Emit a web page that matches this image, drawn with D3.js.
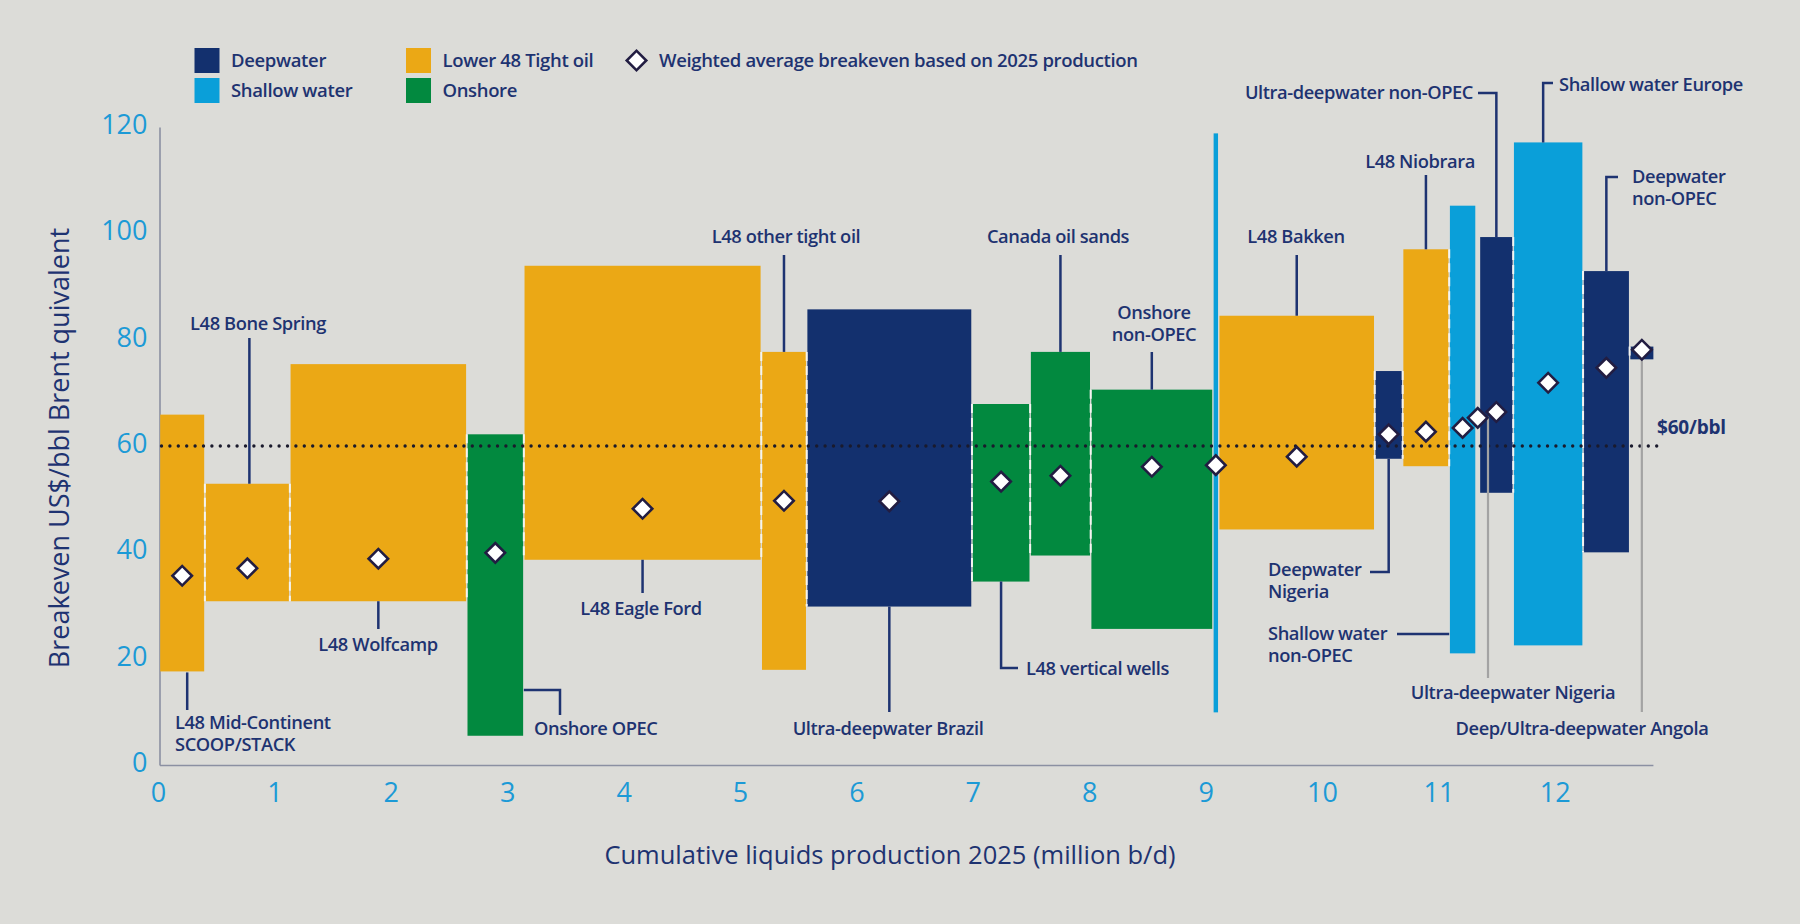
<!DOCTYPE html>
<html><head><meta charset="utf-8">
<script src="https://cdn.jsdelivr.net/npm/d3@7"></script>
<style>
body{margin:0;background:#dcdcd8;}
svg{display:block;font-family:'Open Sans',sans-serif;}
</style></head><body>
<svg id="chart" width="1800" height="924"></svg>
<script>
// ---------- DATA ----------
const categories = ["Deepwater", "Shallow water", "Lower 48 Tight oil", "Onshore"];
const categoryColors = ["#13306e", "#0a9fd9", "#eba815", "#02893f"];
const names = ["L48 Mid-Continent SCOOP/STACK","L48 Bone Spring","L48 Wolfcamp","Onshore OPEC","L48 Eagle Ford",
  "L48 other tight oil","Ultra-deepwater Brazil","L48 vertical wells","Canada oil sands","Onshore non-OPEC",
  "Shallow water (other)","L48 Bakken","Deepwater Nigeria","L48 Niobrara","Shallow water non-OPEC",
  "Ultra-deepwater Nigeria","Ultra-deepwater non-OPEC","Shallow water Europe","Deepwater non-OPEC","Deep/Ultra-deepwater Angola"];
const segCategory = [2,2,2,3,2,2,0,3,3,3,1,2,0,2,1,0,0,1,0,0];
const production = [0.39,0.73,1.52,0.49,2.04,0.39,1.42,0.50,0.52,1.05,0.05,1.34,0.24,0.40,0.23,0.03,0.29,0.60,0.40,0.21];
const lowBreakeven  = [17.6,30.8,30.8,5.5,38.6,17.9,29.8,34.5,39.4,25.6,9.9,44.3,57.6,56.2,21.0,64.3,51.2,22.5,40.0,76.3];
const highBreakeven = [65.9,52.9,75.4,62.2,93.9,77.7,85.7,67.9,77.7,70.6,118.8,84.5,74.1,97.0,105.2,66.3,99.3,117.1,92.9,78.7];
const avgBreakeven  = [35.6,37.0,38.8,39.9,48.2,49.7,49.6,53.3,54.4,56.1,56.4,58.0,62.2,62.7,63.4,65.3,66.4,71.9,74.7,78.1];
const yTicks = [0,20,40,60,80,100,120];
const xTicks = [0,1,2,3,4,5,6,7,8,9,10,11,12];
const refPrice = 60;
const refLabel = "$60/bbl";
const legendAvgText = "Weighted average breakeven based on 2025 production";
const xTitle = "Cumulative liquids production 2025 (million b/d)";
const yTitle = "Breakeven US$/bbl Brent quivalent";

// ---------- LAYOUT ----------
const svg = d3.select("#chart");
const navy = "#1e3371";
const W = 1800, H = 924;
svg.append("rect").attr("width",W).attr("height",H).attr("fill","#dcdcd8");

const cumEnd = Array.from(d3.cumsum(production));
const segs = names.map((n,i)=>({
  name:n, cat:segCategory[i], x0: i? cumEnd[i-1]:0, x1: cumEnd[i],
  lo: lowBreakeven[i], hi: highBreakeven[i], avg: avgBreakeven[i]
}));

const x = d3.scaleLinear().domain([0,12.83]).range([159.5, 159.5+12.83*116.4]);
const y = d3.scaleLinear().domain([0,120]).range([765,127]);

// axes
const gy = svg.append("g").attr("transform",`translate(${x(0)},0)`)
  .call(d3.axisLeft(y).tickValues(yTicks).tickSize(0).tickPadding(12));
const gx = svg.append("g").attr("transform",`translate(0,${y(0)})`)
  .call(d3.axisBottom(x).tickValues(xTicks).tickSize(0).tickPadding(18));
[gx,gy].forEach(g=>{
  g.select(".domain").attr("stroke","#8b90a2").attr("stroke-width",1.6);
  g.selectAll("text").attr("fill","#1c9ad6").attr("font-size",27).attr("font-family","'Open Sans',sans-serif");
});
gx.selectAll("text").attr("transform","translate(-1.5,0)");
gy.selectAll("text").attr("transform","translate(0,-2)");

// boxes
const inset = 0.7;
svg.append("g").selectAll("rect").data(segs).join("rect")
  .attr("x",d=>x(d.x0)+inset)
  .attr("width",d=>Math.max(1.5,x(d.x1)-x(d.x0)-2*inset))
  .attr("y",d=>y(d.hi))
  .attr("height",d=>y(d.lo)-y(d.hi))
  .attr("fill",d=>categoryColors[d.cat]);

// white dashed separators between adjacent boxes
const seps = [];
for(let i=0;i<segs.length-1;i++){
  const a=segs[i], b=segs[i+1];
  if(production[i]<0.1 || production[i+1]<0.1) continue;
  const top=Math.min(a.hi,b.hi), bot=Math.max(a.lo,b.lo);
  if(top>bot) seps.push({x:a.x1, top, bot});
}
svg.append("g").selectAll("line").data(seps).join("line")
  .attr("x1",d=>x(d.x)).attr("x2",d=>x(d.x))
  .attr("y1",d=>y(d.top)).attr("y2",d=>y(d.bot))
  .attr("stroke","#f4f4f0").attr("stroke-width",2).attr("stroke-dasharray","9 5");

// $60 line
svg.append("line").attr("x1",x(0)+2).attr("x2",1662)
  .attr("y1",y(refPrice)).attr("y2",y(refPrice))
  .attr("stroke","#1a1a2c").attr("stroke-width",3.4)
  .attr("stroke-linecap","round").attr("stroke-dasharray","0 8.4");
svg.append("text").attr("x",1657).attr("y",y(refPrice)-19).attr("dy","0.35em")
  .attr("fill",navy).attr("font-weight",700).attr("font-size",19).attr("letter-spacing","-0.2").text(refLabel);

// annotations
const geo = i => { const s=segs[i]; return {cx:(x(s.x0)+x(s.x1))/2, x0:x(s.x0), x1:x(s.x1), yTop:y(s.hi), yBot:y(s.lo), yAvg:y(s.avg)}; };
const annotations = [
  {i:0, lines:["L48 Mid-Continent","SCOOP/STACK"], anchor:"start", lx:175, ly:723, leader:b=>[[b.cx+5,b.yBot+1],[b.cx+5,710]]},
  {i:1, lines:["L48 Bone Spring"], anchor:"middle", lx:258, ly:324, leader:b=>[[b.cx+2,b.yTop],[b.cx+2,338]]},
  {i:2, lines:["L48 Wolfcamp"], anchor:"middle", lx:378, ly:645, leader:b=>[[b.cx,b.yBot],[b.cx,629]]},
  {i:3, lines:["Onshore OPEC"], anchor:"start", lx:534, ly:729, leader:b=>[[b.x1,690],[560,690],[560,715]]},
  {i:4, lines:["L48 Eagle Ford"], anchor:"middle", lx:641, ly:609, leader:b=>[[b.cx,b.yBot],[b.cx,593]]},
  {i:5, lines:["L48 other tight oil"], anchor:"middle", lx:786, ly:237, leader:b=>[[b.cx,b.yTop],[b.cx,255]]},
  {i:6, lines:["Ultra-deepwater Brazil"], anchor:"middle", lx:888, ly:729, leader:b=>[[b.cx,b.yBot],[b.cx,712]]},
  {i:7, lines:["L48 vertical wells"], anchor:"start", lx:1026, ly:669, leader:b=>[[b.cx,b.yBot],[b.cx,668],[1018,668]]},
  {i:8, lines:["Canada oil sands"], anchor:"middle", lx:1058, ly:237, leader:b=>[[b.cx,b.yTop],[b.cx,255]]},
  {i:9, lines:["Onshore","non-OPEC"], anchor:"middle", lx:1154, ly:313, leader:b=>[[b.cx,b.yTop],[b.cx,352]]},
  {i:11, lines:["L48 Bakken"], anchor:"middle", lx:1296, ly:237, leader:b=>[[b.cx,b.yTop],[b.cx,255]]},
  {i:12, lines:["Deepwater","Nigeria"], anchor:"start", lx:1268, ly:570, leader:b=>[[b.cx,b.yBot],[b.cx,572],[1370,572]]},
  {i:13, lines:["L48 Niobrara"], anchor:"middle", lx:1420, ly:162, leader:b=>[[b.cx,b.yTop],[b.cx,175]]},
  {i:14, lines:["Shallow water","non-OPEC"], anchor:"start", lx:1268, ly:634, leader:b=>[[b.x0,634],[1397,634]]},
  {i:15, lines:["Ultra-deepwater Nigeria"], anchor:"middle", lx:1513, ly:693, gray:true, leader:b=>[[b.cx+9,b.yAvg],[1488,b.yAvg],[1488,678]]},
  {i:16, lines:["Ultra-deepwater non-OPEC"], anchor:"end", lx:1473, ly:93, leader:b=>[[b.cx,b.yTop],[b.cx,93],[1478,93]]},
  {i:17, lines:["Shallow water Europe"], anchor:"start", lx:1559, ly:85, leader:b=>[[b.cx-5,b.yTop],[b.cx-5,83],[1553,83]]},
  {i:18, lines:["Deepwater","non-OPEC"], anchor:"start", lx:1632, ly:177, leader:b=>[[b.cx,b.yTop],[b.cx,177],[1618,177]]},
  {i:19, lines:["Deep/Ultra-deepwater Angola"], anchor:"middle", lx:1582, ly:729, gray:true, leader:b=>[[b.cx,b.yAvg],[b.cx,712]]}
];
const ga = svg.append("g");
annotations.forEach(a=>{
  const pts = a.leader(geo(a.i));
  ga.append("path").attr("d",d3.line()(pts)).attr("fill","none")
    .attr("stroke",a.gray?"#a3a3a3":navy).attr("stroke-width",a.gray?2.2:2.5);
  const t = ga.append("text").attr("text-anchor",a.anchor).attr("fill",navy)
    .attr("font-size",18.3).attr("font-weight",600).attr("letter-spacing","-0.4");
  a.lines.forEach((l,k)=>t.append("tspan").attr("x",a.lx).attr("y",a.ly+k*21.5).attr("dy","0.35em").text(l));
});

// diamonds
const diamond = d3.symbol().type(d3.symbolSquare).size(190);
svg.append("g").selectAll("path").data(segs).join("path")
  .attr("d",diamond)
  .attr("transform",d=>`translate(${(x(d.x0)+x(d.x1))/2},${y(d.avg)}) rotate(45)`)
  .attr("fill","#ffffff").attr("stroke","#221d42").attr("stroke-width",2.6);

// legend
const legendPos = [[194.5,48],[194.5,78],[406,48],[406,78]];
const lg = svg.append("g");
categories.forEach((c,i)=>{
  const [lx,ly]=legendPos[i];
  lg.append("rect").attr("x",lx).attr("y",ly).attr("width",25).attr("height",25).attr("fill",categoryColors[i]);
  lg.append("text").attr("x",lx+36.5).attr("y",ly+12.5).attr("dy","0.35em")
    .attr("fill",navy).attr("font-size",18.5).attr("font-weight",600).attr("letter-spacing","-0.35").text(c);
});
lg.append("path").attr("d",diamond).attr("transform","translate(636.5,60.5) rotate(45)")
  .attr("fill","#fff").attr("stroke","#221d42").attr("stroke-width",2.6);
lg.append("text").attr("x",659).attr("y",60.5).attr("dy","0.35em")
  .attr("fill",navy).attr("font-size",18.5).attr("font-weight",600).attr("letter-spacing","-0.35").text(legendAvgText);

// titles
svg.append("text").attr("x",890).attr("y",855).attr("dy","0.35em").attr("text-anchor","middle")
  .attr("fill",navy).attr("font-size",25.5).attr("font-weight",500).text(xTitle);
svg.append("text").attr("transform","translate(60,448) rotate(-90)").attr("dy","0.35em").attr("text-anchor","middle")
  .attr("fill",navy).attr("font-size",27).attr("font-weight",500).text(yTitle);
</script>
</body></html>
